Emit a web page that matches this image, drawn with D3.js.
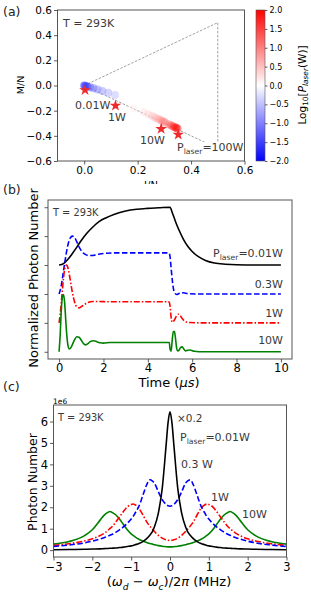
<!DOCTYPE html>
<html><head><meta charset="utf-8">
<script src="https://cdn.jsdelivr.net/npm/d3@7"></script>
<style>html,body{margin:0;padding:0;background:#fff;}svg{display:block;font-family:"DejaVu Sans",sans-serif;}</style>
</head><body><div id="chart"></div>
<script>
// ---------------- Panel (a) data ----------------
const aLogP = [-2.0,-1.8,-1.6,-1.4,-1.2,-1.05,-0.9,-0.75,-0.6, 0.15,0.25,0.35,0.45,0.55,0.65,0.75,0.85,0.95,1.05, 1.2,1.4,1.55,1.7,1.85,2.0];
const aI    = [0.0,0.005,0.012,0.022,0.035,0.05,0.068,0.09,0.115, 0.185,0.222,0.24,0.255,0.265,0.275,0.283,0.29,0.296,0.302, 0.318,0.326,0.333,0.339,0.344,0.349];
const aM    = [0.0,-0.003,-0.008,-0.014,-0.022,-0.032,-0.044,-0.058,-0.075, -0.182,-0.21,-0.228,-0.243,-0.254,-0.264,-0.272,-0.28,-0.287,-0.294, -0.31,-0.318,-0.325,-0.331,-0.336,-0.341];
const starI = [0.003,0.117,0.288,0.352];
const starM = [-0.036,-0.16,-0.345,-0.39];
const triI = [0,0.5,0.5,0];
const triM = [0,0.5,-0.5,0];
const aXTicks = [0.0,0.2,0.4,0.6];
const aYTicks = [-0.6,-0.4,-0.2,0.0,0.2,0.4,0.6];
const cbTicks = [-2.0,-1.5,-1.0,-0.5,0.0,0.5,1.0,1.5,2.0];

// ---------------- Panel (b) data ----------------
const bT0 = [0,0.2,0.4,0.6,0.8,1.0,1.25,1.5,1.8,2.1,2.5,3.0,3.5,4.0,4.5,5.0,5.1,5.25,5.4,5.6,5.8,6.0,6.3,6.6,7.0,7.5,8,9,10];
const bV0 = [3.0,3.05,3.2,3.4,3.62,3.85,4.1,4.3,4.5,4.63,4.76,4.87,4.93,4.96,4.98,5.0,4.82,4.5,4.22,3.9,3.65,3.47,3.28,3.16,3.07,3.03,3.01,3.0,3.0];
const bT1 = [0,0.1,0.2,0.3,0.4,0.5,0.6,0.7,0.8,0.9,1.0,1.1,1.2,1.35,1.5,1.7,2.0,2.5,3,4,4.95,5.0,5.05,5.1,5.15,5.2,5.3,5.45,5.6,5.8,6.2,7,8,10];
const bV1 = [2.0,2.3,2.8,3.3,3.7,3.93,4.0,3.95,3.8,3.63,3.5,3.41,3.36,3.33,3.33,3.36,3.4,3.42,3.42,3.42,3.42,3.3,2.9,2.5,2.2,2.05,1.98,2.03,2.04,2.01,2.0,2.0,2.0,2.0];
const bT2 = [0,0.05,0.1,0.15,0.2,0.25,0.3,0.35,0.4,0.5,0.6,0.7,0.8,0.9,1.0,1.15,1.3,1.5,1.8,2.2,3,4,4.95,5.0,5.05,5.1,5.2,5.3,5.38,5.45,5.55,5.7,5.9,6.5,8,10];
const bV2 = [1.0,1.3,1.7,2.15,2.55,2.85,2.98,3.0,2.9,2.5,2.05,1.72,1.55,1.52,1.56,1.64,1.7,1.74,1.74,1.73,1.73,1.73,1.73,1.6,1.2,1.02,1.1,1.25,1.3,1.26,1.15,1.04,1.01,1.0,1.0,1.0];
const bT3 = [0,0.05,0.1,0.15,0.2,0.25,0.3,0.35,0.4,0.45,0.5,0.6,0.7,0.8,0.9,1.0,1.1,1.2,1.3,1.4,1.55,1.7,1.85,2.0,2.3,3,4,4.97,5.0,5.05,5.1,5.15,5.2,5.25,5.3,5.35,5.4,5.47,5.55,5.62,5.7,5.8,5.9,6.1,6.5,8,10];
const bV3 = [0,0.6,1.45,1.9,1.98,1.7,1.1,0.55,0.22,0.1,0.11,0.25,0.42,0.52,0.5,0.4,0.28,0.24,0.28,0.35,0.38,0.35,0.31,0.3,0.32,0.32,0.32,0.32,0.1,0.02,0.4,0.7,0.7,0.45,0.12,0.03,0.05,0.14,0.17,0.1,0.03,0.05,0.06,0.02,0.0,0,0];
const bXTicks = [0,2,4,6,8,10];
const bYTicks = [0,1,2,3,4,5];

// ---------------- Panel (c) data ----------------
const cX = [-3.0,-2.6,-2.2,-2.0,-1.8,-1.7,-1.6,-1.55,-1.5,-1.4,-1.3,-1.2,-1.1,-1.0,-0.95,-0.9,-0.8,-0.7,-0.6,-0.52,-0.45,-0.4,-0.3,-0.2,-0.1,-0.05,0,
            0.05,0.1,0.2,0.3,0.4,0.45,0.52,0.6,0.7,0.8,0.9,0.95,1.0,1.1,1.2,1.3,1.4,1.5,1.55,1.6,1.7,1.8,2.0,2.2,2.6,3.0];
const cBlack = [0.02,0.03,0.04,0.05,0.06,0.07,0.08,0.085,0.09,0.1,0.12,0.14,0.17,0.2,0.22,0.25,0.31,0.4,0.54,0.7,0.88,1.09,1.73,2.88,4.9,5.95,6.45,
            5.95,4.9,2.88,1.73,1.09,0.88,0.7,0.54,0.4,0.31,0.25,0.22,0.2,0.17,0.14,0.12,0.1,0.09,0.085,0.08,0.07,0.06,0.05,0.04,0.03,0.02];
const cBlue = [0.17,0.24,0.34,0.42,0.52,0.58,0.65,0.69,0.73,0.83,0.95,1.08,1.25,1.45,1.57,1.72,2.05,2.55,3.05,3.28,3.22,3.12,2.72,2.36,2.13,2.07,2.05,
            2.07,2.13,2.36,2.72,3.12,3.22,3.28,3.05,2.55,2.05,1.72,1.57,1.45,1.25,1.08,0.95,0.83,0.73,0.69,0.65,0.58,0.52,0.42,0.34,0.24,0.17];
const cRed = [0.22,0.3,0.43,0.53,0.68,0.78,0.92,1.0,1.08,1.3,1.55,1.8,2.02,2.13,2.15,2.12,1.95,1.65,1.32,1.12,0.97,0.87,0.69,0.56,0.48,0.46,0.45,
            0.46,0.48,0.56,0.69,0.87,0.97,1.12,1.32,1.65,1.95,2.12,2.15,2.13,2.02,1.8,1.55,1.3,1.08,1.0,0.92,0.78,0.68,0.53,0.43,0.3,0.22];
const cGreen = [0.28,0.4,0.68,0.95,1.4,1.62,1.76,1.8,1.77,1.65,1.45,1.2,0.95,0.76,0.69,0.62,0.51,0.43,0.36,0.31,0.28,0.25,0.21,0.18,0.16,0.15,0.15,
            0.15,0.16,0.18,0.21,0.25,0.28,0.31,0.36,0.43,0.51,0.62,0.69,0.76,0.95,1.2,1.45,1.65,1.77,1.8,1.76,1.62,1.4,0.95,0.68,0.4,0.28];
const cXTicks = [-3,-2,-1,0,1,2,3];
const cYTicks = [0,1,2,3,4,5,6];

// ---------------- drawing ----------------
const W = 311, H = 594;
const FONT = "DejaVu Sans";
const svg = d3.select("#chart").append("svg").attr("width", W).attr("height", H)
  .attr("font-family", FONT);
const ANN = "#3a3a3a";
const SPINE = "#555";

function styleAxis(g, fs) {
  g.attr("font-family", FONT).attr("font-size", fs);
  g.select(".domain").remove();
  g.selectAll(".tick line").attr("stroke", "#333").attr("stroke-width", 0.8);
  g.selectAll(".tick text").attr("fill", "#000");
}
function richText(parent, x, y, parts, fs, opts = {}) {
  const t = parent.append("text").attr("x", x).attr("y", y).attr("font-size", fs)
    .attr("fill", opts.fill || ANN).attr("text-anchor", opts.anchor || "start");
  if (opts.rotate) t.attr("transform", `rotate(-90,${x},${y})`);
  let shift = 0;
  parts.forEach(p => {
    const [s, o] = typeof p === "string" ? [p, {}] : p;
    const ts = t.append("tspan").text(s);
    const target = o.sub ? fs * 0.28 : 0;
    if (target !== shift) { ts.attr("dy", target - shift); shift = target; }
    if (o.sub) ts.attr("font-size", fs * 0.7);
    if (o.italic) ts.attr("font-style", "italic");
  });
  return t;
}
const line = (xs, ys, sx, sy) => d3.line().curve(d3.curveMonotoneX)
  .x((d, i) => sx(xs[i])).y((d, i) => sy(ys[i]))(xs);

// ===== Panel (a) =====
const xA = d3.scaleLinear().domain([-0.1, 0.6]).range([57.5, 244.5]);
const yA = d3.scaleLinear().domain([-0.6, 0.6]).range([161, 10]);
const cmap = d3.scaleLinear().domain([-2, 0, 2]).range(["#0000ff", "#ffffff", "#ff0000"]);
const gA = svg.append("g");
gA.append("path").attr("d", d3.line().x((d, i) => xA(triI[i])).y((d, i) => yA(triM[i]))(triI))
  .attr("fill", "none").attr("stroke", "#888").attr("stroke-width", 0.8).attr("stroke-dasharray", "2.5,1.5");
const bgRect = gA.append("rect").attr("fill", "#fff");
gA.selectAll("circle.pt").data(aLogP).join("circle")
  .attr("cx", (d, i) => xA(aI[i])).attr("cy", (d, i) => yA(aM[i])).attr("r", 4)
  .attr("fill", d => cmap(d)).attr("fill-opacity", 0.45);
gA.selectAll("path.star").data(starI).join("path")
  .attr("transform", (d, i) => `translate(${xA(starI[i])},${yA(starM[i])})`)
  .attr("d", d3.symbol(d3.symbolStar, 42)).attr("fill", "#ee2a2a");
gA.append("rect").attr("x", 57.5).attr("y", 10).attr("width", 187).attr("height", 151)
  .attr("fill", "none").attr("stroke", SPINE).attr("stroke-width", 1);
styleAxis(gA.append("g").attr("transform", "translate(0,161)")
  .call(d3.axisBottom(xA).tickValues(aXTicks).tickFormat(d3.format(".1f")).tickSize(3.5).tickPadding(2.5)), 10.5);
styleAxis(gA.append("g").attr("transform", "translate(57.5,0)")
  .call(d3.axisLeft(yA).tickValues(aYTicks).tickFormat(d3.format(".1f")).tickSize(3.5).tickPadding(2)), 10.5);
richText(gA, 63, 27, ["T = 293K"], 11);
richText(gA, 75, 109, ["0.01W"], 11);
richText(gA, 108, 121, ["1W"], 11);
richText(gA, 140, 144, ["10W"], 11);
const lab100 = richText(gA, 177, 151, ["P", ["laser", {sub: true}], "=100W"], 11);
const bb = lab100.node().getBBox();
bgRect.attr("x", bb.x - 1).attr("y", bb.y + 1).attr("width", bb.width + 1).attr("height", bb.height - 1);
svg.append("text").attr("x", 20).attr("y", 85).attr("transform", "rotate(-90,20,85)")
  .attr("text-anchor", "middle").attr("dominant-baseline", "central").attr("font-size", 9.5).text("M/N");
svg.append("clipPath").attr("id", "clipIN").append("rect").attr("x", 0).attr("y", 0).attr("width", W).attr("height", 184);
svg.append("text").attr("x", 151).attr("y", 188.5).attr("text-anchor", "middle").attr("font-size", 10)
  .attr("clip-path", "url(#clipIN)").text("I/N");
// colorbar
const cbY = d3.scaleLinear().domain([-2, 2]).range([161, 10]);
const grad = svg.append("defs").append("linearGradient").attr("id", "bwr")
  .attr("x1", 0).attr("y1", 1).attr("x2", 0).attr("y2", 0);
[-2, 0, 2].forEach(v => grad.append("stop").attr("offset", (v + 2) / 4).attr("stop-color", cmap(v)));
svg.append("rect").attr("x", 256).attr("y", 10).attr("width", 9).attr("height", 151)
  .attr("fill", "url(#bwr)").attr("stroke", SPINE).attr("stroke-width", 0.6);
styleAxis(svg.append("g").attr("transform", "translate(265,0)")
  .call(d3.axisRight(cbY).tickValues(cbTicks).tickFormat(d3.format(".1f")).tickSize(2.5).tickPadding(2)), 8);
richText(svg, 302, 85, ["Log", ["10", {sub: true}], "[", ["P", {italic: true}], ["laser", {sub: true, italic: true}], "(W)]"], 10.5,
  {rotate: true, anchor: "middle", fill: "#000"}).attr("dominant-baseline", "central");

// ===== Panel (b) =====
const xB = d3.scaleLinear().domain([-0.5, 10.5]).range([48, 292]);
const yB = d3.scaleLinear().domain([-0.25, 5.25]).range([359, 200]);
const gB = svg.append("g");
const bSeries = [
  {t: bT0, v: bV0, c: "#000000", dash: null},
  {t: bT1, v: bV1, c: "#0000ff", dash: "5.5,2.5"},
  {t: bT2, v: bV2, c: "#ff0000", dash: "6,2,1.5,2"},
  {t: bT3, v: bV3, c: "#008000", dash: null}
];
bSeries.forEach(s => gB.append("path").attr("d", line(s.t, s.v, xB, yB)).attr("fill", "none")
  .attr("stroke", s.c).attr("stroke-width", 1.6).attr("stroke-dasharray", s.dash));
gB.append("rect").attr("x", 48).attr("y", 200).attr("width", 244).attr("height", 159)
  .attr("fill", "none").attr("stroke", SPINE).attr("stroke-width", 1);
styleAxis(gB.append("g").attr("transform", "translate(0,359)")
  .call(d3.axisBottom(xB).tickValues(bXTicks).tickFormat(d3.format("d")).tickSize(3.5).tickPadding(1.5)), 11.5);
styleAxis(gB.append("g").attr("transform", "translate(48,0)")
  .call(d3.axisLeft(yB).tickValues(bYTicks).tickFormat("").tickSize(3.5)), 11.5);
richText(gB, 53, 216, ["T = 293K"], 9.8);
richText(gB, 283, 257, ["P", ["laser", {sub: true}], "=0.01W"], 11, {anchor: "end"});
richText(gB, 283, 288, ["0.3W"], 11, {anchor: "end"});
richText(gB, 283, 317, ["1W"], 11, {anchor: "end"});
richText(gB, 283, 344, ["10W"], 11, {anchor: "end"});
richText(svg, 169, 387, ["Time (", ["μ", {italic: true}], ["s", {italic: true}], ")"], 13, {anchor: "middle", fill: "#000"});
svg.append("text").attr("x", 33).attr("y", 278).attr("transform", "rotate(-90,33,278)")
  .attr("text-anchor", "middle").attr("dominant-baseline", "central").attr("font-size", 13).text("Normalized Photon Number");

// ===== Panel (c) =====
const xC = d3.scaleLinear().domain([-3, 3]).range([53.5, 286.5]);
const yC = d3.scaleLinear().domain([-0.32, 6.77]).range([557, 405]);
const gC = svg.append("g");
svg.append("clipPath").attr("id", "clipC").append("rect").attr("x", 53.5).attr("y", 405).attr("width", 233).attr("height", 152);
const cSeries = [
  {v: cGreen, c: "#008000", dash: null},
  {v: cRed, c: "#ff0000", dash: "6,2,1.5,2"},
  {v: cBlue, c: "#0000ff", dash: "5.5,2.5"},
  {v: cBlack, c: "#000000", dash: null}
];
cSeries.forEach(s => gC.append("path").attr("d", line(cX, s.v, xC, yC)).attr("fill", "none")
  .attr("clip-path", "url(#clipC)")
  .attr("stroke", s.c).attr("stroke-width", 1.6).attr("stroke-dasharray", s.dash));
gC.append("rect").attr("x", 53.5).attr("y", 405).attr("width", 233).attr("height", 152)
  .attr("fill", "none").attr("stroke", SPINE).attr("stroke-width", 1);
styleAxis(gC.append("g").attr("transform", "translate(0,557)")
  .call(d3.axisBottom(xC).tickValues(cXTicks).tickFormat(d3.format("d")).tickSize(3.5).tickPadding(2)), 11.5);
styleAxis(gC.append("g").attr("transform", "translate(53.5,0)")
  .call(d3.axisLeft(yC).tickValues(cYTicks).tickFormat(d3.format("d")).tickSize(3.5).tickPadding(2)), 11.5);
svg.append("text").attr("x", 53).attr("y", 404).attr("font-size", 7.5).text("1e6");
richText(gC, 58, 421, ["T = 293K"], 9.8);
richText(gC, 177, 422, ["×0.2"], 10.5);
richText(gC, 180, 441, ["P", ["laser", {sub: true}], "=0.01W"], 11);
richText(gC, 181, 468, ["0.3 W"], 11);
richText(gC, 211, 501, ["1W"], 11);
richText(gC, 242, 518, ["10W"], 11);
richText(svg, 169, 586, ["(", ["ω", {italic: true}], ["d", {sub: true, italic: true}], " − ", ["ω", {italic: true}], ["c", {sub: true, italic: true}], ")/2", ["π", {italic: true}], " (MHz)"], 13, {anchor: "middle", fill: "#000"});
svg.append("text").attr("x", 32).attr("y", 482).attr("transform", "rotate(-90,32,482)")
  .attr("text-anchor", "middle").attr("dominant-baseline", "central").attr("font-size", 12.5).text("Photon Number");

// panel letters
[["(a)", 16], ["(b)", 194], ["(c)", 391]].forEach(([s, y]) =>
  svg.append("text").attr("x", 3).attr("y", y).attr("font-size", 12.5).attr("fill", "#222").text(s));
</script></body></html>
